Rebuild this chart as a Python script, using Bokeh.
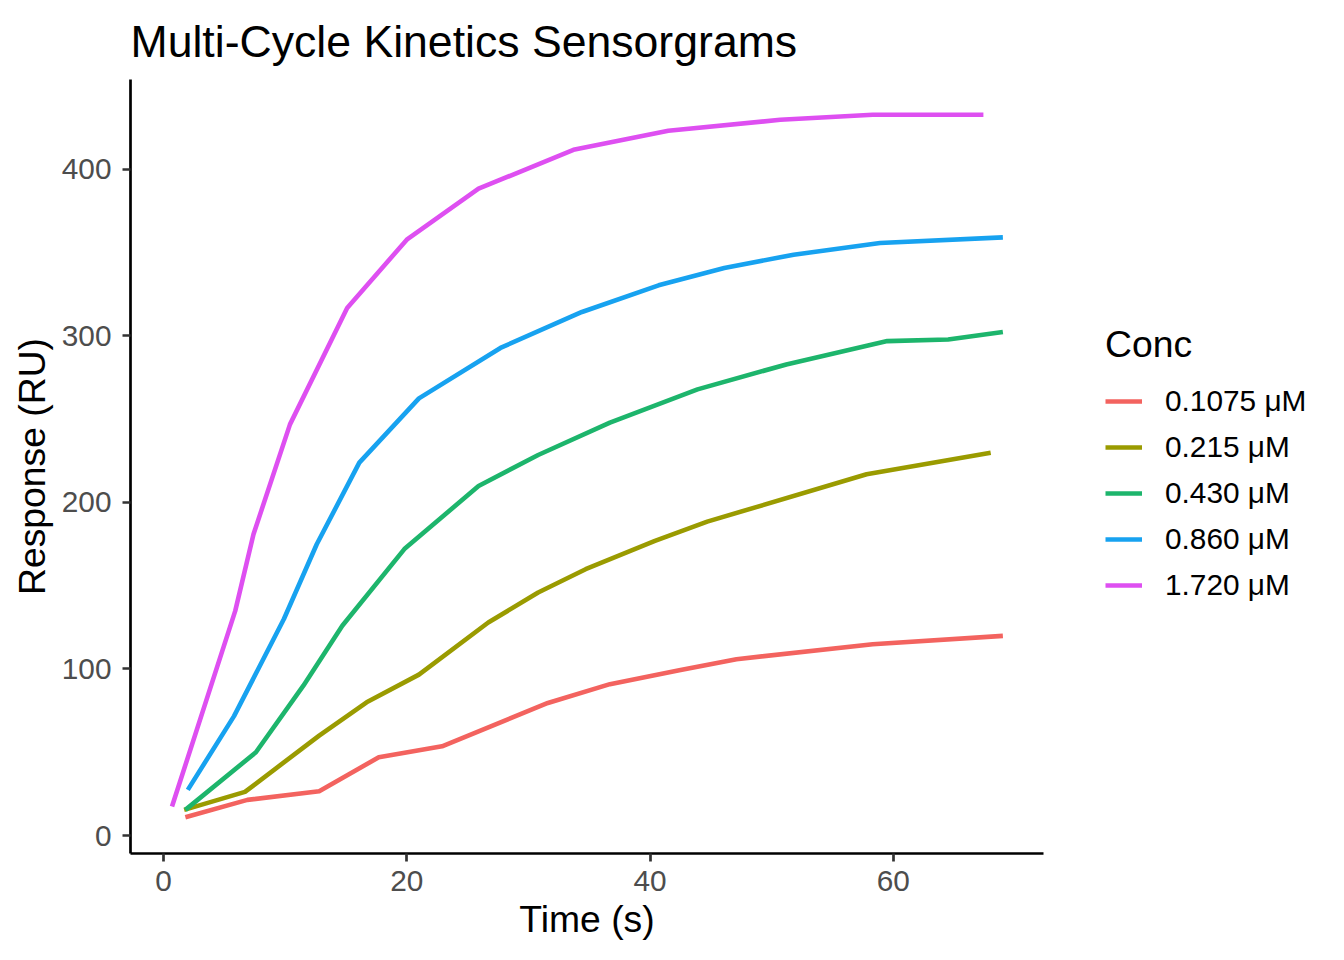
from bokeh.plotting import figure
from bokeh.models import Legend, LegendItem, FixedTicker, Range1d
from bokeh.layouts import row
from bokeh.embed import file_html
from bokeh.resources import INLINE

# ---- data ----
conc_labels = ["0.1075 μM", "0.215 μM", "0.430 μM", "0.860 μM", "1.720 μM"]
series_colors = ["#F3635F", "#9A9B00", "#1DB56C", "#17A2F0", "#DE4FF1"]

t_01075 = [1.8, 6.9, 12.8, 17.7, 22.9, 31.6, 36.7, 42.4, 47.1, 58.3, 69.0]
r_01075 = [11.0, 21.4, 26.6, 47.0, 53.6, 79.6, 90.9, 99.3, 105.9, 114.9, 119.9]

t_0215 = [1.7, 6.7, 12.8, 16.7, 21.0, 26.7, 30.8, 34.7, 40.4, 44.7, 57.8, 68.0]
r_0215 = [15.4, 26.2, 60.0, 80.0, 96.6, 127.9, 145.9, 159.9, 176.9, 188.5, 216.9, 229.9]

t_0430 = [1.8, 7.6, 11.5, 14.7, 19.8, 25.9, 30.8, 36.7, 43.9, 51.2, 59.5, 64.5, 69.0]
r_0430 = [15.4, 50.0, 90.0, 126.0, 172.0, 209.9, 228.5, 247.9, 267.9, 282.9, 296.9, 297.9, 302.4]

t_0860 = [2.0, 5.8, 9.9, 12.6, 16.1, 21.0, 27.7, 34.4, 40.7, 46.1, 51.8, 58.9, 69.0]
r_0860 = [27.4, 71.7, 130.0, 174.9, 223.9, 262.5, 292.8, 314.4, 330.4, 340.8, 348.8, 355.8, 359.2]

t_1720 = [0.7, 5.9, 7.4, 10.4, 15.1, 20.0, 25.9, 33.7, 41.5, 50.7, 58.3, 67.4]
r_1720 = [17.4, 134.9, 180.9, 246.9, 316.8, 357.8, 388.4, 411.8, 423.2, 429.8, 432.8, 432.8]

x_ticks = [0, 20, 40, 60]
y_ticks = [0, 100, 200, 300, 400]

FONT = "Liberation Sans"
LW = 4.6

# ---- main plot ----
p = figure(width=1053, height=944, output_backend="svg", toolbar_location=None,
           x_range=Range1d(-2.71, 72.34), y_range=Range1d(-10.8, 454.0),
           min_border_left=130, min_border_right=10, min_border_top=78,
           min_border_bottom=91)

p.title.text = "Multi-Cycle Kinetics Sensorgrams"
p.title.text_font = FONT
p.title.text_font_size = "44.6px"
p.title.text_font_style = "normal"
p.title.text_color = "black"
p.title.align = "left"
p.title.offset = 0
p.title.standoff = 28

p.xgrid.visible = False
p.ygrid.visible = False
p.outline_line_color = None
p.background_fill_color = "white"
p.border_fill_color = "white"

p.xaxis.ticker = FixedTicker(ticks=x_ticks)
p.yaxis.ticker = FixedTicker(ticks=y_ticks)
for ax in (p.xaxis, p.yaxis):
    ax.axis_line_color = "black"
    ax.axis_line_width = 2.7
    ax.major_tick_line_color = "#333333"
    ax.major_tick_line_width = 2.7
    ax.major_tick_out = 8
    ax.major_tick_in = 0
    ax.minor_tick_line_color = None
    ax.major_label_text_font = FONT
    ax.major_label_text_font_size = "29.8px"
    ax.major_label_text_color = "#4D4D4D"
    ax.axis_label_text_font = FONT
    ax.axis_label_text_font_size = "37.3px"
    ax.axis_label_text_font_style = "normal"
    ax.axis_label_text_color = "black"

p.xaxis.axis_label = "Time (s)"
p.yaxis.axis_label = "Response (RU)"
p.xaxis.major_label_standoff = 9
p.yaxis.major_label_standoff = 11
p.xaxis.axis_label_standoff = 4
p.yaxis.axis_label_standoff = 6

all_t = [t_01075, t_0215, t_0430, t_0860, t_1720]
all_r = [r_01075, r_0215, r_0430, r_0860, r_1720]

for col, tt, rr in zip(series_colors, all_t, all_r):
    p.line(tt, rr, line_color=col, line_width=LW, line_join="round")

# ---- legend panel (separate figure to the right; its lines lie outside its view) ----
q = figure(width=275, height=944, output_backend="svg", toolbar_location=None,
           x_range=Range1d(-1000, -999), y_range=Range1d(-1000, -999),
           min_border_left=0, min_border_right=0, min_border_top=0,
           min_border_bottom=0)
q.xaxis.visible = False
q.yaxis.visible = False
q.xgrid.visible = False
q.ygrid.visible = False
q.outline_line_color = None
q.background_fill_color = "white"
q.border_fill_color = "white"

items = []
for lab, col, tt, rr in zip(conc_labels, series_colors, all_t, all_r):
    rk = q.line(tt, rr, line_color=col, line_width=LW)
    items.append(LegendItem(label=lab, renderers=[rk]))

legend = Legend(items=items, location=(52, 245))
legend.title = "Conc"
legend.title_text_font = FONT
legend.title_text_font_size = "37.3px"
legend.title_text_font_style = "normal"
legend.title_text_color = "black"
legend.title_standoff = 12
legend.label_text_font = FONT
legend.label_text_font_size = "29.8px"
legend.label_text_color = "black"
legend.glyph_width = 37
legend.glyph_height = 46
legend.label_height = 46
legend.label_standoff = 23
legend.spacing = 0
legend.padding = 0
legend.margin = 0
legend.border_line_color = None
legend.background_fill_alpha = 0
q.add_layout(legend, "center")

layout = row(p, q, spacing=0)
open("out.html", "w").write(file_html(layout, INLINE))
